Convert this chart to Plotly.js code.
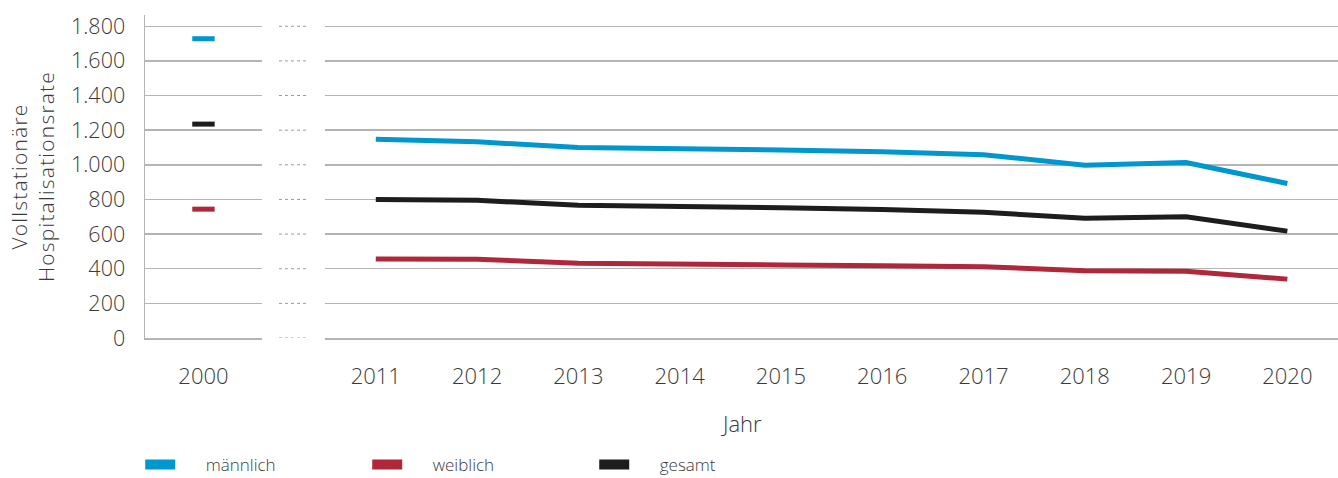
<!DOCTYPE html>
<html>
<head>
<meta charset="utf-8">
<script src="https://cdn.plot.ly/plotly-3.0.1.min.js"></script>
<style>
  body { margin: 0; background: #fff; }
  #chart { width: 1338px; height: 478px; }
  .ytitle { letter-spacing: 1.2px; }
</style>
</head>
<body>
<div id="chart"></div>
<script>
// Jahr 2000 (eigener Abschnitt) und 2011-2020
const baseYear = ['2000'];
const years = ['2011', '2012', '2013', '2014', '2015', '2016', '2017', '2018', '2019', '2020'];

const maleBase = [1728];
const femaleBase = [744];
const totalBase = [1235];

const male = [1148, 1133, 1100, 1096, 1086, 1075, 1058, 998, 1013, 892];
const female = [456, 455, 432, 430, 422, 417, 412, 388, 386, 340];
const total = [799, 795, 767, 762, 752, 742, 726, 692, 700, 617];

const yTicks = [0, 200, 400, 600, 800, 1000, 1200, 1400, 1600, 1800];

const colors = { male: '#0096ce', female: '#b0263a', total: '#1d1d1b' };
const names = { male: 'männlich', female: 'weiblich', total: 'gesamt' };

const fontFamily = '"Open Sans", "Noto Sans", sans-serif';
const textColor = '#3a3a3a';
const gridColor = '#b4b4b4';

function baseTrace(y, key) {
    return {
        x: baseYear, y: y, xaxis: 'x', yaxis: 'y',
        type: 'scatter', mode: 'markers', showlegend: false, hoverinfo: 'skip',
        marker: { symbol: 'line-ew-open', size: 16, color: colors[key], line: { color: colors[key], width: 5 } }
    };
}

function lineTrace(y, key) {
    return {
        x: years, y: y, xaxis: 'x2', yaxis: 'y',
        type: 'scatter', mode: 'lines', showlegend: false,
        line: { color: colors[key], width: 5 }
    };
}

// nur für die Legende (rechteckige Farbfelder)
function legendTrace(key) {
    return {
        x: [null], y: [null], xaxis: 'x2', yaxis: 'y',
        type: 'scatter', mode: 'lines', name: '\u2003\u2002' + names[key],
        line: { color: colors[key], width: 11 }
    };
}

const data = [
    baseTrace(maleBase, 'male'), baseTrace(femaleBase, 'female'), baseTrace(totalBase, 'total'),
    lineTrace(male, 'male'), lineTrace(female, 'female'), lineTrace(total, 'total'),
    legendTrace('male'), legendTrace('female'), legendTrace('total')
];

// gepunktete Gitterlinien in der Achsenlücke
const gapShapes = yTicks.map(v => ({
    type: 'line', xref: 'paper', yref: 'y',
    x0: 0.1123, x1: 0.1366, y0: v, y1: v,
    line: { color: '#9a9a9a', width: 1, dash: 'dot' }
}));

const xAxisBase = {
    type: 'category', anchor: 'y',
    showgrid: false, zeroline: false, showline: true, linecolor: gridColor, linewidth: 1.5,
    ticks: '', ticklabelstandoff: 18, tickfont: { size: 22, weight: 300 }
};

const layout = {
    width: 1338, height: 478,
    margin: { l: 145, r: 0, t: 15, b: 140, autoexpand: false },
    paper_bgcolor: '#fff', plot_bgcolor: '#fff',
    separators: ',.',
    font: { family: fontFamily, color: textColor, size: 19, weight: 300 },
    xaxis: Object.assign({}, xAxisBase, { domain: [0, 0.098], range: [-0.5, 0.5] }),
    xaxis2: Object.assign({}, xAxisBase, { domain: [0.151, 1], range: [-0.5, 9.5] }),
    yaxis: {
        range: [0, 1865], tickvals: yTicks, tickformat: ',d',
        showgrid: true, gridcolor: gridColor, gridwidth: 1.5,
        zeroline: false, showline: true, linecolor: gridColor, linewidth: 1.5,
        ticks: '', ticklabelstandoff: 14, tickfont: { size: 21.5, weight: 300 },
        title: { text: 'Vollstationäre<br>Hospitalisationsrate', font: { size: 21, weight: 300 }, standoff: 10 }
    },
    shapes: gapShapes,
    annotations: [{
        text: 'Jahr', xref: 'paper', yref: 'paper', x: 0.5, y: -0.263,
        xanchor: 'center', yanchor: 'middle', showarrow: false, font: { size: 22, weight: 300 }
    }],
    showlegend: true,
    legend: {
        orientation: 'h', x: -0.004, xanchor: 'left', y: -0.337, yanchor: 'top',
        entrywidth: 182, entrywidthmode: 'pixels', itemwidth: 30,
        font: { size: 17, weight: 300 }, bgcolor: 'rgba(0,0,0,0)'
    }
};

Plotly.newPlot('chart', data, layout, { displayModeBar: false, staticPlot: true });
</script>
</body>
</html>
